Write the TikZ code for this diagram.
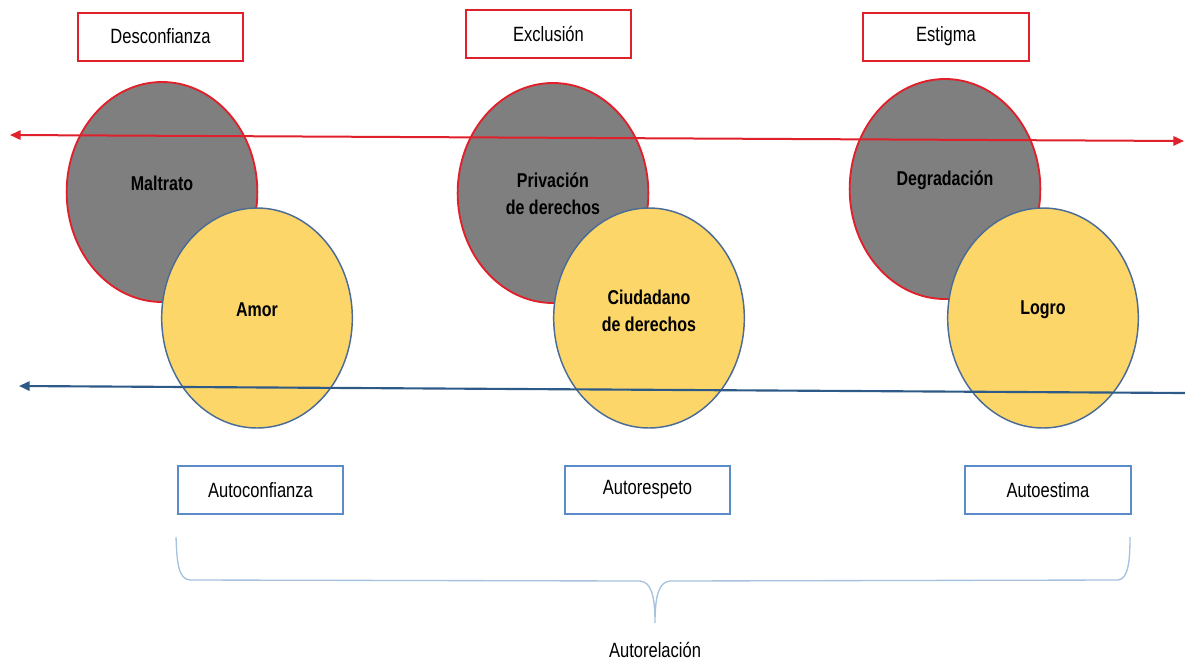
\documentclass[tikz,border=0pt]{standalone}
\usepackage{fontspec}
\setmainfont{Liberation Sans}[FakeStretch=0.8]
\usepackage{xcolor}
\usetikzlibrary{shapes.geometric,arrows.meta}
\definecolor{linered}{HTML}{E0202A}
\definecolor{lineblue}{HTML}{2E5A88}
\definecolor{boxblue}{HTML}{5B8BC8}
\definecolor{bracecol}{HTML}{A7C2DF}
\definecolor{blobgrey}{HTML}{7F7F7F}
\definecolor{blobyellow}{HTML}{FCD669}
\definecolor{blobedge}{HTML}{4C6C98}

\begin{document}
\begin{tikzpicture}[x=0.75pt,y=-0.75pt,
    redbox/.style={draw=linered, line width=1.5pt, minimum width=124pt, minimum height=36pt, inner sep=0pt, font=\fontsize{15.5}{19}\selectfont},
    bluebox/.style={draw=boxblue, line width=1.5pt, minimum width=124pt, minimum height=36pt, inner sep=0pt, font=\fontsize{15.5}{19}\selectfont},
    greyblob/.style={ellipse, draw=linered, fill=blobgrey, line width=1.4pt, minimum width=143pt, minimum height=165pt, inner sep=0pt},
    yellowblob/.style={ellipse, draw=blobedge, fill=blobyellow, line width=1.1pt, minimum width=143pt, minimum height=165pt, inner sep=0pt},
    bloblabel/.style={align=center, font=\fontsize{15}{20.25}\selectfont\bfseries}]
    \useasboundingbox (0,0) rectangle (1185,665);

    % Top boxes
    \node[redbox] (desconfianza) at (160.5,36.5) {Desconfianza};
    \node[redbox] (exclusion) at (548.5,33.5) {Exclusión};
    \node[redbox] (estigma) at (946,36.5) {Estigma};

    % Grey circles
    \node[greyblob] (maltrato) at (162,192) {};
    \node[greyblob] (privacion) at (553,193) {};
    \node[greyblob] (degradacion) at (945,189) {};

    % Red arrow
    \coordinate (redL) at (10,135);
    \coordinate (redR) at (1184,141);
    \draw[linered, line width=1.5pt, {Triangle[length=8pt,width=7pt]}-{Triangle[length=8pt,width=7pt]}] (redL) -- (redR);

    % Yellow circles
    \node[yellowblob] (amor) at (257,318) {};
    \node[yellowblob] (ciudadano) at (649,318) {};
    \node[yellowblob] (logro) at (1043,318) {};

    % Blue arrow
    \coordinate (blueL) at (19,386);
    \coordinate (blueR) at (1185,393);
    \draw[lineblue, line width=1.6pt, -{Triangle[length=8pt,width=7pt]}] (blueR) -- (blueL);

    % Circle labels
    \node[bloblabel] (tmaltrato) at (162,183) {Maltrato};
    \node[bloblabel] (tprivacion) at (553,193.5) {Privación\\de derechos};
    \node[bloblabel] (tdegradacion) at (945,180) {Degradación};
    \node[bloblabel] (tamor) at (257,310) {Amor};
    \node[bloblabel] (tciudadano) at (649,310.5) {Ciudadano\\de derechos};
    \node[bloblabel] (tlogro) at (1043,310) {Logro};

    % Bottom boxes
    \node[bluebox] (autoconfianza) at (260.5,490) {Autoconfianza};
    \node[bluebox] (autorespeto) at (647.5,490) {Autorespeto};
    \node[bluebox] (autoestima) at (1048,490) {Autoestima};

    % Brace
    \coordinate (braceL) at (176,537);
    \coordinate (braceR) at (1130,537);
    \coordinate (braceTip) at (655,623);
    \draw[bracecol, line width=1pt] (braceL) .. controls (177,562) and (178,579) .. (190,580)
        -- (640,581) .. controls (651,582) and (655,595) .. (braceTip)
        .. controls (655,595) and (659,582) .. (670,581)
        -- (1118,580) .. controls (1128,579) and (1130,562) .. (braceR);
    \node[font=\fontsize{15.5}{19}\selectfont] (autorelacion) at (655,650) {Autorelación};
\end{tikzpicture}
\end{document}
